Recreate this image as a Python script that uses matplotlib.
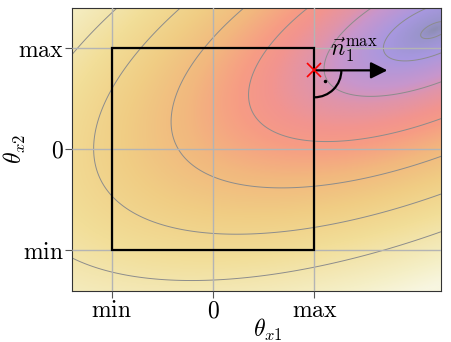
import numpy as np
import matplotlib
matplotlib.use('Agg')
import matplotlib.pyplot as plt
from matplotlib.colors import LinearSegmentedColormap
from matplotlib.patches import Arc, Rectangle

plt.rcParams['mathtext.fontset'] = 'cm'
plt.rcParams['font.family'] = 'serif'
plt.rcParams['font.serif'] = ['DejaVu Serif']

# objective: elliptic cone around the optimum
peak = [2.19, 1.18]
quad = [[1.697, -1.64], [-1.64, 4.69]]
levels = [0.15, 0.54, 1.16, 1.95, 2.76, 3.57, 4.38]

# box limits and the active corner point
box_lo = [-1.0, -1.0]
box_hi = [1.0, 1.0]
point = [1.0, 0.78]
arrow_tip = [1.72, 0.78]

tick_pos = [-1, 0, 1]
tick_labels = [r'$\mathrm{min}$', r'$0$', r'$\mathrm{max}$']

# colour of the background as a function of distance to the optimum
r_stops = [0.0, 0.15, 0.5, 1.0, 1.3, 1.7, 2.05, 2.6, 3.25, 4.0, 4.5, 5.0, 5.5]
c_stops = ['#8e8eb4', '#9a94cc', '#a898e0', '#c896cc', '#e094aa', '#f2948f',
           '#f79c84', '#f2b87e', '#f0cd84', '#f2de98', '#f3e6b0', '#f5efc6',
           '#f8f6e0']

xlim = (-1.39, 2.25)
ylim = (-1.41, 1.40)

cmap = LinearSegmentedColormap.from_list(
    'bg', [(r / r_stops[-1], c) for r, c in zip(r_stops, c_stops)])

x = np.linspace(*xlim, 400)
y = np.linspace(*ylim, 400)
X, Y = np.meshgrid(x, y)
dx, dy = X - peak[0], Y - peak[1]
R = np.sqrt(quad[0][0] * dx**2 + 2 * quad[0][1] * dx * dy + quad[1][1] * dy**2)

fig = plt.figure(figsize=(4.51, 3.42), dpi=100)
ax = fig.add_axes([0.16, 0.149, 0.818, 0.828])

ax.imshow(R, extent=(*xlim, *ylim), origin='lower', cmap=cmap,
          vmin=0, vmax=r_stops[-1], aspect='auto', interpolation='bilinear')
ax.contour(X, Y, R, levels=levels, colors='#8c8c8c', linewidths=0.7)

ax.set_xticks(tick_pos)
ax.set_xticklabels(tick_labels)
ax.set_yticks(tick_pos)
ax.set_yticklabels(tick_labels)
ax.tick_params(labelsize=17, length=5, width=0.8, color='#555555', pad=1)
ax.grid(True, color='#b4b4b4', linewidth=1.0)
ax.set_axisbelow(False)
for s in ax.spines.values():
    s.set_color('#333333')
    s.set_linewidth(0.8)

ax.add_patch(Rectangle(box_lo, box_hi[0] - box_lo[0], box_hi[1] - box_lo[1],
                       fill=False, ec='k', lw=1.6, zorder=4))

# normal vector with right-angle marker
ax.annotate('', xy=arrow_tip, xytext=point,
            arrowprops=dict(arrowstyle='-|>', color='k', lw=1.6,
                            mutation_scale=25, shrinkA=0, shrinkB=0),
            zorder=5)
ax.add_patch(Arc(point, 2 * 27 / 101.5, 2 * 27 / 101, theta1=270, theta2=360,
                 color='k', lw=1.6, zorder=5))
ax.plot(point[0] + 11 / 101.5, point[1] - 11 / 101, 'k.', ms=3, zorder=5)
ax.plot(*point, 'x', color='red', ms=10, mew=1.2, zorder=6)
ax.text(1.39, 0.99, r'$\vec{n}_1^{\max}$', fontsize=17, ha='center', va='center')

ax.set_xlim(xlim)
ax.set_ylim(ylim)
ax.set_xlabel(r'$\theta_{x1}$', fontsize=17)
ax.set_ylabel(r'$\theta_{x2}$', fontsize=17)
ax.xaxis.set_label_coords(0.53, -0.09)
ax.yaxis.set_label_coords(-0.12, 0.5)

fig.savefig('out.png', dpi=100)
